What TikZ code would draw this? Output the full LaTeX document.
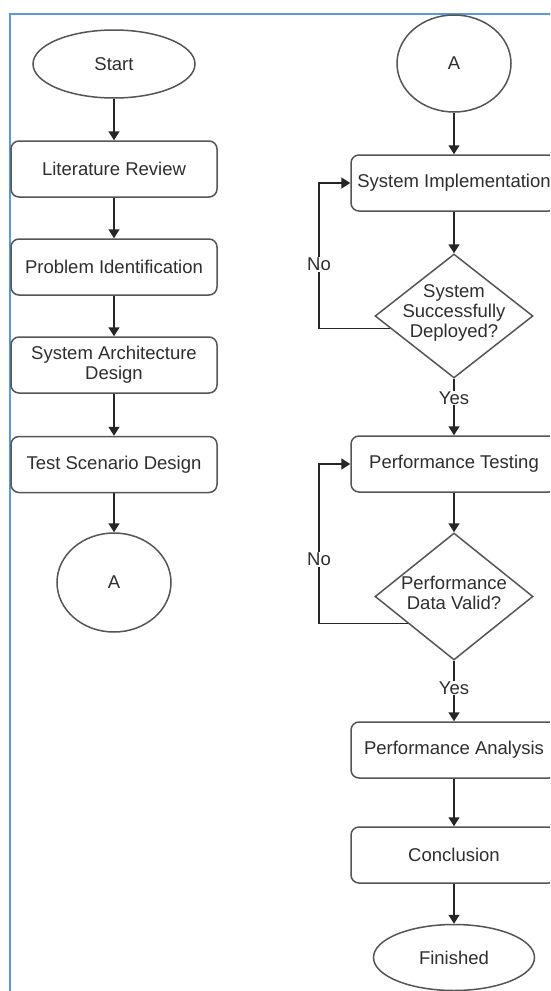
\documentclass[tikz,border=0pt]{standalone}
\usepackage{fontspec}
\setmainfont{Liberation Sans}
\usetikzlibrary{shapes.geometric,arrows.meta,calc}
\definecolor{txt}{HTML}{2E2E2E}
\definecolor{edge}{HTML}{555555}
\definecolor{frame}{HTML}{5B9BD5}
\begin{document}
\begin{tikzpicture}[x=1pt,y=-1pt,
  every node/.style={font=\fontsize{18.5}{20}\selectfont, text=txt},
  box/.style={draw=edge, line width=1.5pt, rounded corners=8pt, fill=white,
    minimum width=206pt, minimum height=56pt, align=center, inner sep=0pt},
  oval/.style={draw=edge, line width=1.5pt, ellipse, fill=white, inner sep=0pt},
  dia/.style={draw=edge, line width=1.5pt, diamond, fill=white, inner sep=0pt},
  arr/.style={draw=black!85, line width=1.5pt, -{Triangle[width=11pt,length=9pt]}},
  lbl/.style={fill=white, inner sep=1pt}
]
\useasboundingbox (0,0) rectangle (550,991);
\clip (0,0) rectangle (550,991);
\fill[white] (0,0) rectangle (550,991);
% frame
\draw[frame, line width=2pt] (10,991) -- (10,14) -- (551,14);

% left column
\node[oval, minimum width=162pt, minimum height=68pt] (start) at (114,64) {Start};
\node[box] (lr) at (114,169) {Literature Review};
\node[box] (pi) at (114,267) {Problem Identification};
\node[box] (sad) at (114,365) {System Architecture\\Design};
\node[box] (tsd) at (114,464.5) {Test Scenario Design};
\node[oval, minimum width=114pt, minimum height=99pt] (a1) at (114,582.5) {A};

\draw[arr] (start) -- (lr);
\draw[arr] (lr) -- (pi);
\draw[arr] (pi) -- (sad);
\draw[arr] (sad) -- (tsd);
\draw[arr] (tsd) -- (a1);

% right column
\node[oval, minimum width=114pt, minimum height=97pt] (a2) at (454,63.5) {A};
\node[box] (si) at (454,183) {System Implementation};
\node[dia, minimum width=158pt, minimum height=124pt] (d1) at (454,316) {};
\node[align=center] (d1t) at (454,313) {System\\Successfully\\Deployed?};
\node[box] (pt) at (454,464) {Performance Testing};
\node[dia, minimum width=158pt, minimum height=127pt] (d2) at (454,596.5) {};
\node[align=center] (d2t) at (454,593) {Performance\\Data Valid?};
\node[box] (pa) at (454,750) {Performance Analysis};
\node[box] (con) at (454,855) {Conclusion};
\node[oval, minimum width=161pt, minimum height=66pt] (fin) at (454,957.5) {Finished};

\coordinate (l1) at (319,183);
\coordinate (l2) at (319,464);

\draw[arr] (a2) -- (si);
\draw[arr] (si) -- (d1);
\draw[arr] (d1) -- node[lbl, pos=0.34] (yes1) {Yes} (pt);
\draw[arr] ($(d1.west)!0.2!(d1.south)$) -| node[lbl, pos=0.72] (no1) {No} (l1) -- (si.west);
\draw[arr] (pt) -- (d2);
\draw[arr] (d2) -- node[lbl, pos=0.45] (yes2) {Yes} (pa);
\draw[arr] ($(d2.west)!0.42!(d2.south)$) -| node[lbl, pos=0.70] (no2) {No} (l2) -- (pt.west);
\draw[arr] (pa) -- (con);
\draw[arr] (con) -- (fin);
\end{tikzpicture}
\end{document}
